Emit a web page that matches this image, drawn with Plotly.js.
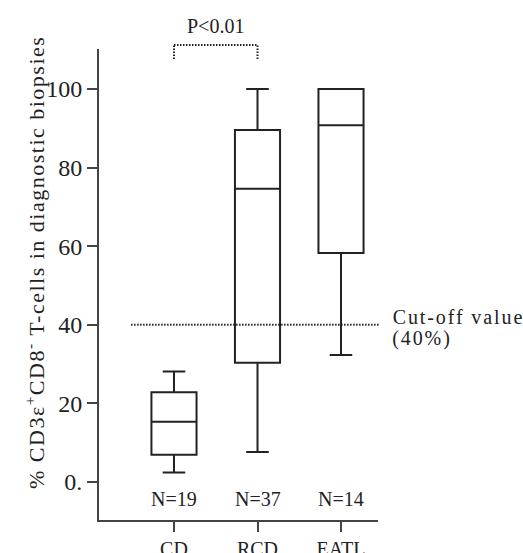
<!DOCTYPE html>
<html>
<head>
<meta charset="utf-8">
<script src="https://cdn.plot.ly/plotly-3.0.1.min.js"></script>
<style>
  html, body { margin: 0; padding: 0; background: #fff; }
  #chart { width: 523px; height: 553px; }
  .annotation[data-index="4"] text, .annotation[data-index="5"] text { letter-spacing: 1.9px; }
  .annotation[data-index="6"] text { letter-spacing: 1.5px; }
</style>
</head>
<body>
<div id="chart"></div>
<script>
// ---- data ----
const categories = ["CD", "RCD", "EATL"];
const lowerWhisker = [2.4, 7.6, 32.3];
const q1Values = [6.9, 30.3, 58.3];
const medianValues = [15.3, 74.6, 90.8];
const q3Values = [22.8, 89.6, 100];
const upperWhisker = [28.1, 100, 100];
const nCounts = [19, 37, 14];
const yTickValues = [0, 20, 40, 60, 80, 100];
const yTickLabels = ["0.", "20", "40", "60", "80", "100"];
const cutOffValue = 40;
const significancePair = ["CD", "RCD"];
const significanceText = "P<0.01";
const yTitle = "% CD3ε<sup>+</sup>CD8<sup>-</sup> T-cells in diagnostic biopsies";

const FONT = "Liberation Serif, Times New Roman, serif";
const INK = "#222222";
const AXIS = "#444444";

const box = {
  type: "box",
  x: categories,
  q1: q1Values,
  median: medianValues,
  q3: q3Values,
  lowerfence: lowerWhisker,
  upperfence: upperWhisker,
  boxpoints: false,
  whiskerwidth: 0.5,
  fillcolor: "rgba(255,255,255,0)",
  line: { color: INK, width: 2 },
  hoverinfo: "skip",
  showlegend: false
};

const annotations = categories.map((c, i) => ({
  x: c, y: -4.3, xref: "x", yref: "y",
  text: "N=" + nCounts[i], showarrow: false,
  xanchor: "center", yanchor: "middle",
  font: { family: FONT, size: 20, color: INK }
}));
annotations.push({
  x: 0.5, y: 1.049, xref: "x", yref: "paper",
  text: significanceText, showarrow: false,
  xanchor: "center", yanchor: "middle",
  font: { family: FONT, size: 20, color: INK }
});
annotations.push({
  x: 1.054, y: 42.1, xref: "paper", yref: "y", xshift: 10,
  text: "Cut-off value", showarrow: false,
  xanchor: "left", yanchor: "middle",
  font: { family: FONT, size: 20, color: INK }
});
annotations.push({
  x: 1.054, y: 36.6, xref: "paper", yref: "y", xshift: 2,
  text: "(" + cutOffValue + "%)", showarrow: false,
  xanchor: "left", yanchor: "middle",
  font: { family: FONT, size: 20, color: INK }
});
annotations.push({
  x: -0.229, y: 0.547, xref: "paper", yref: "paper",
  text: yTitle, showarrow: false, textangle: -90,
  xanchor: "center", yanchor: "middle",
  font: { family: FONT, size: 22, color: INK }
});

const dotLine = { color: INK, width: 2, dash: "1.5px,1.5px" };
const shapes = [
  { type: "line", xref: "paper", yref: "y", x0: 0.115, x1: 1.007, y0: cutOffValue, y1: cutOffValue, line: dotLine },
  { type: "line", xref: "x", yref: "paper", x0: significancePair[0], x1: significancePair[0], y0: 0.979, y1: 1.0085, line: dotLine },
  { type: "line", xref: "x", yref: "paper", x0: significancePair[0], x1: significancePair[1], y0: 1.0085, y1: 1.0085, line: dotLine },
  { type: "line", xref: "x", yref: "paper", x0: significancePair[1], x1: significancePair[1], y0: 0.979, y1: 1.0085, line: dotLine }
];

const layout = {
  width: 523, height: 553,
  margin: { l: 99, r: 145, t: 49, b: 33, pad: 0 },
  paper_bgcolor: "#ffffff", plot_bgcolor: "#ffffff",
  font: { family: FONT, size: 20, color: INK },
  boxgap: 0.46,
  boxgroupgap: 0,
  showlegend: false,
  xaxis: {
    type: "category",
    range: [-0.898, 2.443],
    showgrid: false, zeroline: false,
    showline: true, linecolor: AXIS, linewidth: 2,
    ticks: "outside", ticklen: 10, tickwidth: 2, tickcolor: AXIS,
    tickfont: { family: FONT, size: 20, color: INK },
    fixedrange: true
  },
  yaxis: {
    range: [-9.7, 110.2],
    tickvals: yTickValues, ticktext: yTickLabels,
    showgrid: false, zeroline: false,
    showline: true, linecolor: AXIS, linewidth: 2,
    ticks: "outside", ticklen: 10, tickwidth: 2, tickcolor: AXIS,
    tickfont: { family: FONT, size: 24, color: INK },
    fixedrange: true
  },
  shapes: shapes,
  annotations: annotations
};

Plotly.newPlot("chart", [box], layout, { displayModeBar: false, staticPlot: true });
</script>
</body>
</html>
